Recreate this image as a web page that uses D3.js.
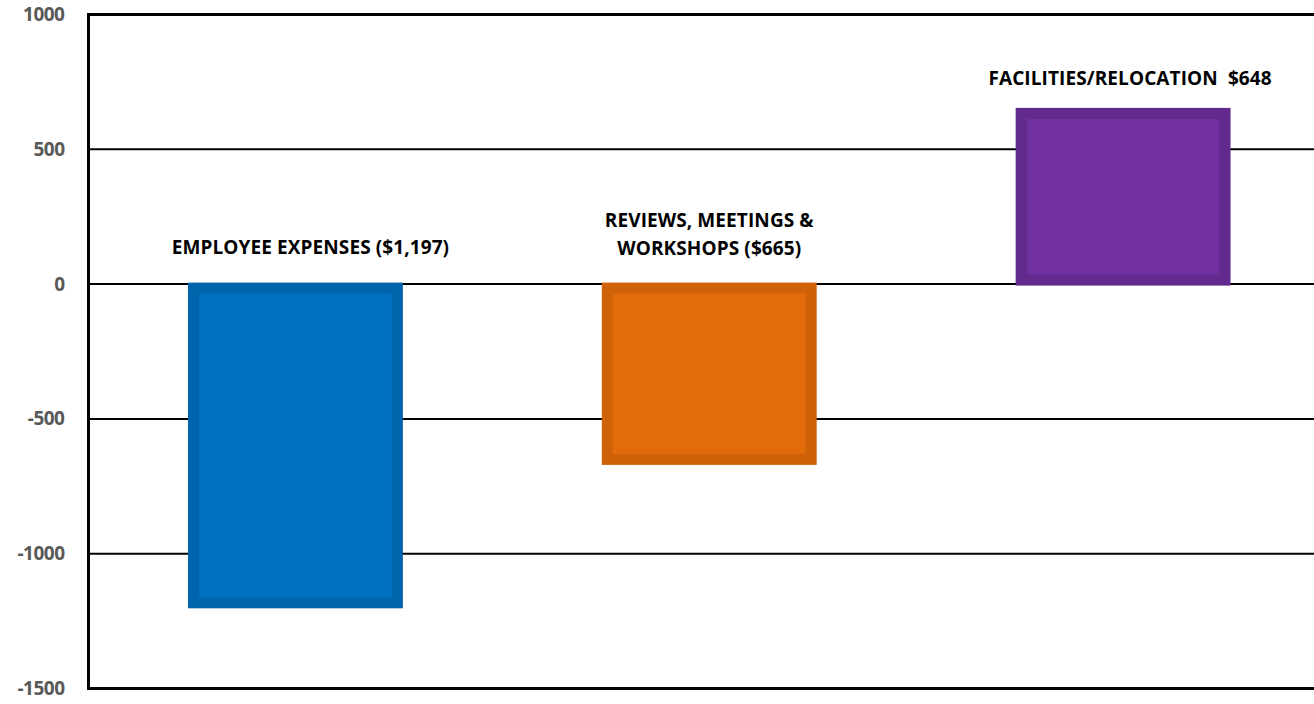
<!DOCTYPE html>
<html>
<head>
<meta charset="utf-8">
<script src="https://cdn.jsdelivr.net/npm/d3@7"></script>
<style>
  html, body { margin: 0; padding: 0; background: #fff; }
  svg { display: block; }
  text { font-family: "Open Sans", Lato, sans-serif; font-weight: bold; }
</style>
</head>
<body>
<svg id="chart" width="1314" height="704"></svg>
<script>
// ---- data ----
const categories = ["EMPLOYEE EXPENSES", "REVIEWS, MEETINGS & WORKSHOPS", "FACILITIES/RELOCATION"];
const values = [-1197, -665, 648];
const labelLines = [
  ["EMPLOYEE EXPENSES ($1,197)"],
  ["REVIEWS, MEETINGS &", "WORKSHOPS ($665)"],
  ["FACILITIES/RELOCATION  $648"]
];
const outerColors = ["#0064AD", "#CF6209", "#622A8C"];
const innerColors = ["#0070C0", "#E36C0A", "#7030A0"];
const tickValues = [1000, 500, 0, -500, -1000, -1500];

// ---- layout ----
const svg = d3.select("#chart");
const pLeft = 88.5, pTop = 14.5, pBottom = 688.5, pRight = 1330;

const y = d3.scaleLinear().domain([-1500, 1000]).range([pBottom, pTop]);
const x = d3.scaleBand().domain(categories).range([pLeft, pRight]).paddingInner(0.488).paddingOuter(0.244);

// gridlines
svg.append("g").selectAll("line")
  .data(tickValues.filter(t => t !== 1000 && t !== -1500))
  .join("line")
  .attr("x1", pLeft).attr("x2", pRight)
  .attr("y1", d => y(d)).attr("y2", d => y(d))
  .attr("stroke", "#000").attr("stroke-width", 2);

// frame
svg.append("rect")
  .attr("x", pLeft).attr("y", pTop)
  .attr("width", pRight - pLeft).attr("height", pBottom - pTop)
  .attr("fill", "none").attr("stroke", "#000").attr("stroke-width", 3);

// y axis labels
const yAxis = d3.axisLeft(y).tickValues(tickValues).tickSize(0).tickPadding(24).tickFormat(d => String(d));
const ax = svg.append("g").attr("transform", `translate(${pLeft},0)`).call(yAxis);
ax.select(".domain").remove();
ax.selectAll("text")
  .attr("fill", "#595959")
  .style("font-size", "19px")
  .style("font-family", "'Open Sans', Lato, sans-serif")
  .style("font-weight", "bold")
  .style("letter-spacing", "-0.5px");

// bars
const bars = svg.append("g").selectAll("g").data(values).join("g");
const sw = 3;
bars.append("rect")
  .attr("x", (d, i) => x(categories[i]))
  .attr("y", d => Math.min(y(d), y(0)))
  .attr("width", x.bandwidth())
  .attr("height", d => Math.abs(y(d) - y(0)))
  .attr("fill", (d, i) => outerColors[i])
  .attr("stroke", (d, i) => outerColors[i])
  .attr("stroke-width", sw);
const inset = 9.5;
bars.append("rect")
  .attr("x", (d, i) => x(categories[i]) + inset)
  .attr("y", d => Math.min(y(d), y(0)) + inset)
  .attr("width", x.bandwidth() - 2 * inset)
  .attr("height", d => Math.abs(y(d) - y(0)) - 2 * inset)
  .attr("fill", (d, i) => innerColors[i]);

// data labels
const labelDx = [15, 0, 7];
const labelY = [247, 234, 78]; // vertical centre of label block
const lineH = 28;
const lbl = svg.append("g").selectAll("text").data(labelLines).join("text")
  .attr("text-anchor", "middle")
  .attr("fill", "#000")
  .style("font-size", "19px")
  .style("letter-spacing", "0.1px")
  .attr("transform", (d, i) => `translate(${x(categories[i]) + x.bandwidth() / 2 + labelDx[i]},${labelY[i] - (d.length - 1) * lineH / 2})`);
lbl.selectAll("tspan").data(d => d).join("tspan")
  .attr("x", 0)
  .attr("y", (d, j) => j * lineH)
  .attr("dy", "0.35em")
  .style("white-space", "pre")
  .text(d => d);
</script>
</body>
</html>
